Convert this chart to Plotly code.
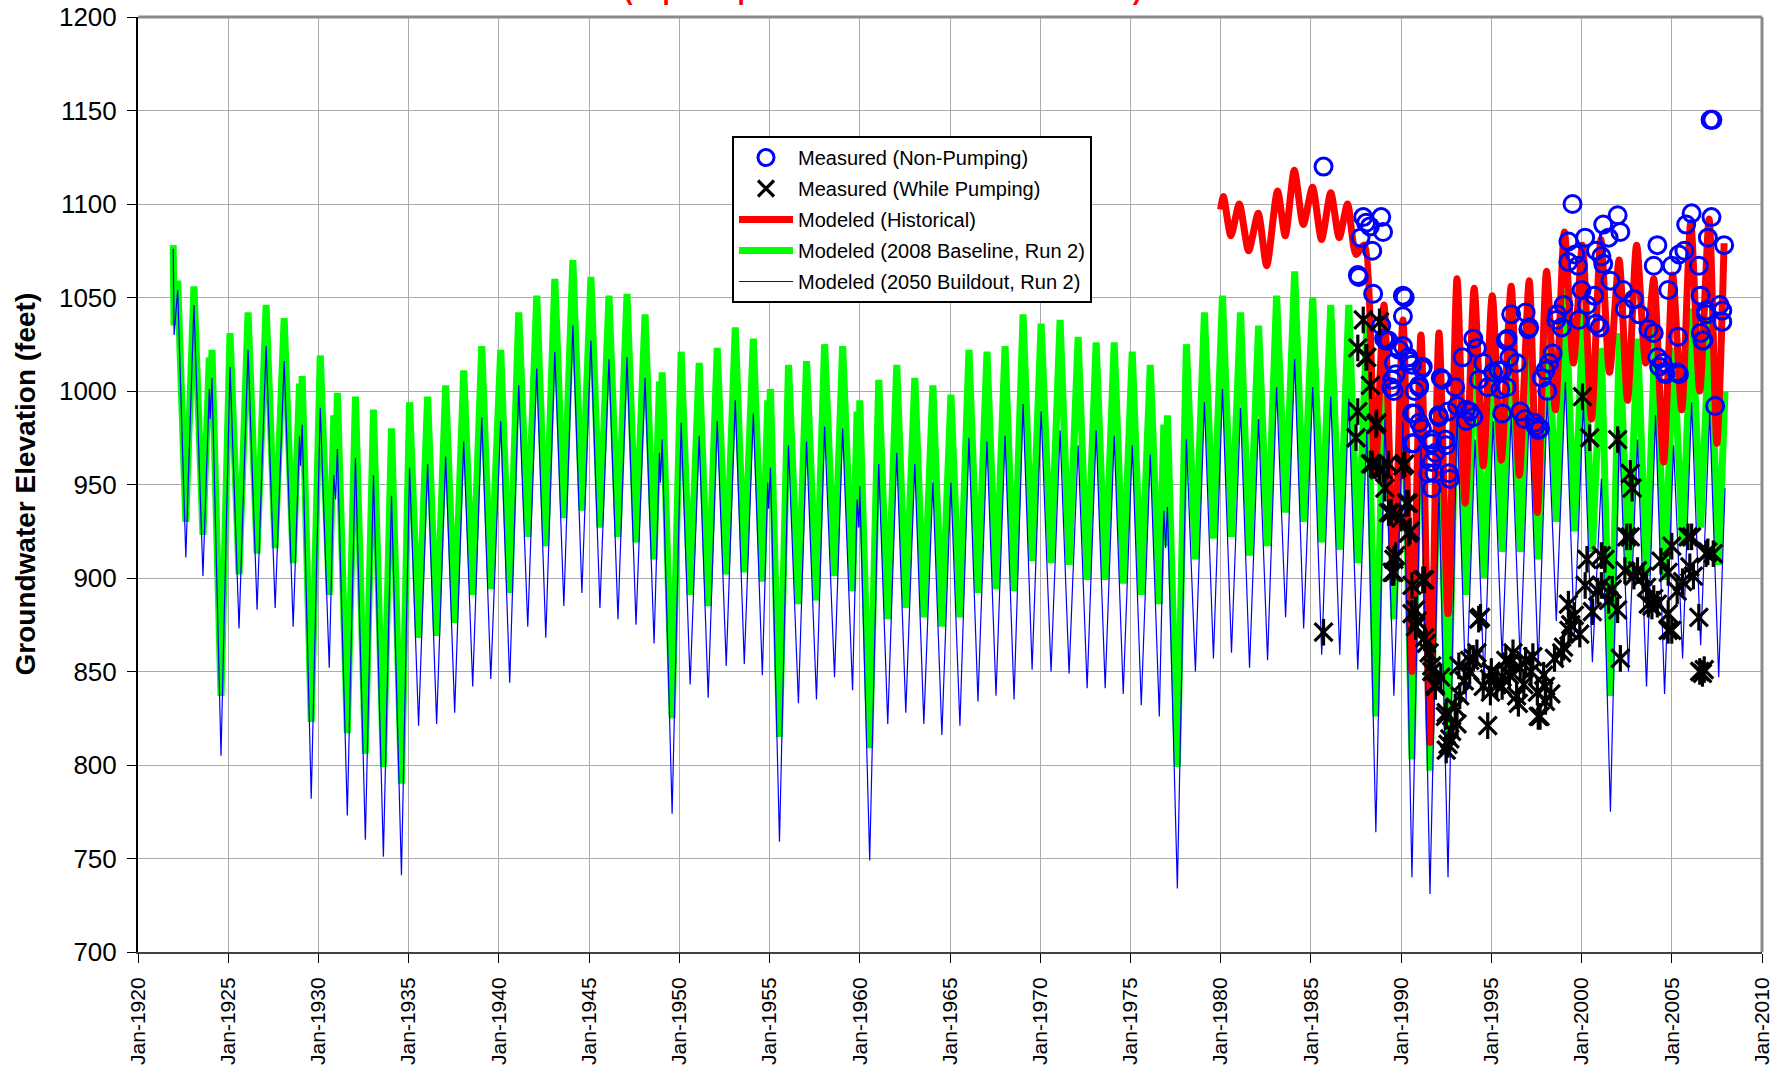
import plotly.graph_objects as go

# ---------------- data ----------------
tick_years = list(range(1920, 2011, 5))
tick_labels = [f"Jan-{y}" for y in tick_years]
y_ticks = list(range(700, 1201, 50))

# (decimal year, 2008 Baseline Run 2, 2050 Buildout Run 2)  -- seasonal highs / lows
model_points = [
    (1921.95, 1078, 1076), (1922.0, 1035, 1030), (1922.2, 1059, 1054), (1922.65, 930, 911),
    (1923.1, 1056, 1046), (1923.6, 923, 901), (1923.95, 1018, 1001), (1924.0, 986, 985),
    (1924.1, 1022, 1007), (1924.6, 837, 805), (1925.1, 1031, 1013), (1925.6, 902, 873),
    (1926.1, 1042, 1022), (1926.6, 913, 883), (1927.1, 1046, 1024), (1927.6, 916, 884),
    (1928.1, 1039, 1016), (1928.6, 908, 874), (1928.95, 1004, 976), (1929.0, 960, 960),
    (1929.1, 1008, 982), (1929.6, 823, 782), (1930.1, 1019, 991), (1930.6, 891, 852),
    (1930.85, 987, 955), (1930.95, 955, 942), (1931.05, 999, 969), (1931.6, 817, 773),
    (1932.05, 997, 964), (1932.6, 806, 760), (1933.05, 990, 955), (1933.6, 799, 751),
    (1934.05, 980, 944), (1934.6, 790, 741), (1935.05, 994, 959), (1935.55, 868, 821),
    (1936.05, 997, 961), (1936.55, 869, 822), (1937.05, 1003, 965), (1937.55, 876, 828),
    (1938.05, 1011, 973), (1938.55, 891, 842), (1939.05, 1024, 986), (1939.55, 894, 846),
    (1940.1, 1022, 984), (1940.6, 892, 844), (1941.1, 1042, 1003), (1941.6, 922, 874),
    (1942.1, 1051, 1012), (1942.6, 917, 868), (1943.1, 1060, 1021), (1943.6, 932, 885),
    (1944.1, 1070, 1035), (1944.6, 936, 892), (1945.1, 1061, 1027), (1945.6, 927, 884),
    (1946.1, 1051, 1017), (1946.6, 922, 878), (1947.1, 1052, 1018), (1947.6, 919, 875),
    (1948.1, 1041, 1007), (1948.6, 910, 865), (1948.9, 1005, 967), (1948.95, 976, 951),
    (1949.05, 1010, 974), (1949.6, 825, 774), (1950.1, 1021, 983), (1950.6, 891, 843),
    (1951.1, 1015, 976), (1951.6, 885, 836), (1952.1, 1023, 984), (1952.6, 902, 853),
    (1953.1, 1034, 995), (1953.6, 903, 854), (1954.1, 1028, 988), (1954.6, 898, 848),
    (1954.9, 995, 951), (1954.95, 978, 937), (1955.05, 1001, 959), (1955.55, 815, 759),
    (1956.05, 1014, 971), (1956.6, 886, 833), (1957.05, 1016, 973), (1957.6, 888, 835),
    (1958.05, 1025, 981), (1958.6, 901, 847), (1959.05, 1024, 980), (1959.6, 893, 840),
    (1959.85, 989, 942), (1959.95, 927, 927), (1960.0, 995, 949), (1960.55, 809, 749),
    (1961.05, 1006, 961), (1961.55, 878, 822), (1962.05, 1014, 967), (1962.55, 884, 828),
    (1963.05, 1007, 961), (1963.55, 879, 822), (1964.05, 1003, 951), (1964.55, 874, 816),
    (1965.05, 998, 951), (1965.55, 879, 821), (1966.05, 1022, 975), (1966.55, 892, 834),
    (1967.05, 1021, 973), (1967.55, 894, 837), (1968.05, 1024, 976), (1968.55, 893, 835),
    (1969.05, 1041, 993), (1969.55, 909, 851), (1970.05, 1036, 989), (1970.6, 908, 850),
    (1971.1, 1038, 979), (1971.6, 907, 849), (1972.1, 1029, 971), (1972.6, 899, 841),
    (1973.1, 1026, 979), (1973.6, 899, 841), (1974.1, 1026, 976), (1974.6, 897, 838),
    (1975.1, 1021, 971), (1975.6, 891, 832), (1976.1, 1014, 966), (1976.6, 886, 826),
    (1976.85, 982, 936), (1976.95, 917, 916), (1977.05, 987, 938), (1977.6, 799, 734),
    (1978.1, 1025, 974), (1978.6, 910, 850), (1979.1, 1042, 994), (1979.6, 921, 857),
    (1980.1, 1051, 1001), (1980.6, 922, 860), (1981.1, 1042, 991), (1981.6, 912, 852),
    (1982.1, 1035, 985), (1982.6, 917, 856), (1983.1, 1051, 1002), (1983.6, 935, 879),
    (1984.1, 1064, 1017), (1984.6, 930, 873), (1985.1, 1050, 1002), (1985.6, 919, 859),
    (1986.1, 1046, 997), (1986.6, 915, 859), (1987.1, 1046, 996), (1987.6, 908, 851),
    (1988.1, 1036, 979), (1988.6, 826, 764), (1989.1, 1041, 985), (1989.6, 878, 837),
    (1990.1, 1026, 984), (1990.6, 803, 740), (1991.1, 1028, 974), (1991.6, 797, 731),
    (1992.1, 994, 948), (1992.6, 811, 740), (1993.1, 1034, 989), (1993.6, 891, 834),
    (1994.1, 1035, 974), (1994.6, 900, 844), (1995.1, 1041, 984), (1995.6, 914, 857),
    (1996.1, 1044, 987), (1996.6, 914, 855), (1997.1, 1046, 989), (1997.6, 910, 853),
    (1998.1, 1051, 997), (1998.6, 930, 877), (1999.1, 1054, 1005), (1999.6, 925, 870),
    (2000.1, 1044, 994), (2000.6, 914, 855), (2001.1, 1023, 953), (2001.6, 837, 775),
    (2002.1, 1031, 979), (2002.6, 904, 850), (2003.1, 1028, 974), (2003.6, 901, 842),
    (2004.1, 1038, 987), (2004.6, 899, 838), (2005.1, 1023, 971), (2005.6, 917, 857),
    (2006.1, 1044, 994), (2006.6, 927, 864), (2007.1, 1038, 989), (2007.6, 907, 847),
    (2007.95, 1000, 948),
]

# Modeled (Historical): (decimal year, elevation)
historical = [
    (1980.0, 1097), (1980.15, 1104), (1980.57, 1083), (1981.03, 1100), (1981.55, 1075),
    (1982.08, 1095), (1982.55, 1067), (1983.15, 1107), (1983.58, 1083), (1984.08, 1118),
    (1984.58, 1089), (1985.09, 1109), (1985.59, 1081), (1986.1, 1106), (1986.57, 1082),
    (1987.03, 1100), (1987.5, 1073), (1987.95, 1078), (1988.55, 955), (1989.05, 1046),
    (1989.6, 900), (1990.1, 1038), (1990.6, 850), (1991.1, 1030), (1991.6, 812),
    (1992.1, 1031), (1992.6, 881), (1993.1, 1060), (1993.55, 940), (1994.05, 1055),
    (1994.55, 960), (1995.05, 1051), (1995.55, 963), (1996.1, 1056), (1996.55, 955),
    (1997.1, 1059), (1997.55, 935), (1998.06, 1064), (1998.55, 990), (1999.05, 1085),
    (1999.55, 1015), (2000.05, 1078), (2000.55, 985), (2001.07, 1081), (2001.55, 1010),
    (2002.08, 1070), (2002.55, 995), (2003.05, 1078), (2003.55, 1015), (2004.0, 1060),
    (2004.55, 962), (2005.05, 1062), (2005.55, 990), (2006.05, 1090), (2006.55, 1000),
    (2007.07, 1092), (2007.5, 972), (2007.9, 1079),
]

# Measured (Non-Pumping)
measured_non_pumping = [
    (1985.7, 1120), (1987.9, 1093), (1988.06, 1090), (1988.27, 1088), (1988.9, 1093), (1989.0, 1085),
    (1987.75, 1082), (1988.4, 1075), (1987.6, 1062), (1987.65, 1061), (1988.45, 1052), (1990.1, 1051),
    (1990.2, 1050), (1988.9, 1035), (1989.06, 1028), (1989.3, 1027), (1990.1, 1040), (1990.1, 1024),
    (1989.6, 1015), (1989.7, 1009), (1989.45, 1002), (1990.4, 1018), (1990.6, 1014), (1991.15, 1012),
    (1992.2, 1007), (1990.75, 1000), (1991.0, 1003), (1990.75, 988), (1990.6, 972), (1991.15, 980),
    (1991.7, 974), (1991.9, 967), (1992.45, 974), (1991.7, 962), (1991.85, 956), (1991.7, 948),
    (1992.7, 953), (1992.07, 987), (1992.6, 989), (1993.1, 992), (1993.8, 989), (1993.6, 984),
    (1993.4, 1018), (1994.0, 1028), (1994.2, 1023), (1994.55, 1015), (1995.1, 1010), (1995.6, 1011),
    (1996.0, 1018), (1996.4, 1015), (1994.3, 1006), (1994.8, 1002), (1995.5, 1001), (1995.85, 1002),
    (1995.9, 1028), (1996.9, 1042), (1997.05, 1033), (1995.6, 988), (1996.6, 989), (1996.85, 985),
    (1997.4, 983), (1997.7, 980), (1997.8, 1007), (1998.2, 1015), (1998.1, 1000), (1998.6, 1038),
    (1998.9, 1034), (1999.0, 1046), (1999.5, 1100), (1999.27, 1080), (1999.65, 1073), (1999.27, 1069),
    (1999.8, 1067), (2000.2, 1082), (2000.8, 1075), (2001.2, 1089), (2001.5, 1082), (2002.0, 1094),
    (2002.15, 1085), (2000.0, 1054), (2000.3, 1046), (2000.7, 1051), (2000.8, 1036), (2001.1, 1072),
    (2001.2, 1068), (2001.6, 1059), (2002.3, 1054), (2002.4, 1044), (2002.9, 1049), (2003.2, 1041),
    (2003.7, 1033), (2004.0, 1031), (2004.2, 1078), (2004.0, 1067), (2004.8, 1054), (2004.2, 1018),
    (2004.6, 1010), (2005.3, 1010), (2004.5, 1015), (2005.0, 1067), (2005.4, 1073), (2005.7, 1075),
    (2006.1, 1095), (2005.8, 1089), (2006.5, 1067), (2006.6, 1051), (2006.9, 1041), (2007.0, 1082),
    (2007.2, 1093), (2007.9, 1078), (2006.6, 1031), (2006.75, 1027), (2007.65, 1046), (2007.8, 1037),
    (2007.4, 992), (2005.35, 1029), (1996.1, 1041), (2007.15, 1145), (2007.25, 1145),
    (1989.15, 1027), (1989.9, 1022), (1990.45, 1016), (1991.2, 1013), (1989.5, 1006), (1989.6, 1000),
    (1991.0, 1002), (1992.3, 1006), (1993.0, 1002), (1995.4, 1011), (1995.8, 1027), (1997.1, 1034),
    (1998.0, 1011), (1998.4, 1020), (1998.65, 1041), (1990.6, 988), (1991.0, 983), (1992.1, 986),
    (1993.6, 990), (1994.0, 986), (1990.7, 972), (1991.7, 972), (1992.5, 971), (1991.5, 956),
    (1992.65, 956), (1997.45, 981), (1997.6, 979), (1999.85, 1038), (2001.0, 1034), (2004.3, 1013),
    (2004.65, 1009), (2005.4, 1009), (2006.9, 1043), (2007.8, 1043), (2006.7, 1027),
]

# Measured (While Pumping)
measured_pumping = [
    (1985.7, 871), (1987.9, 1038), (1988.8, 1037), (1987.6, 1023), (1988.1, 1018), (1988.3, 1003),
    (1987.6, 989), (1988.65, 983), (1987.5, 975), (1988.3, 961), (1988.8, 958), (1989.3, 961),
    (1990.2, 961), (1989.1, 948), (1989.45, 935), (1990.4, 940), (1990.0, 932), (1990.5, 925),
    (1989.6, 910), (1989.6, 903), (1990.6, 896), (1991.3, 899), (1990.8, 883), (1990.9, 877),
    (1991.3, 868), (1991.55, 860), (1991.7, 850), (1992.2, 847), (1991.9, 843), (1992.45, 826),
    (1992.6, 811), (1993.0, 831), (1993.25, 837), (1994.0, 857), (1994.4, 879), (1993.8, 850),
    (1994.55, 842), (1994.95, 839), (1994.8, 821), (1995.6, 847), (1996.1, 855), (1996.6, 852),
    (1997.2, 850), (1997.55, 839), (1997.7, 826), (1995.6, 842), (1996.4, 837), (1998.0, 834),
    (1998.5, 857), (1999.0, 863), (1999.4, 875), (1999.27, 886), (1999.9, 870), (2000.2, 896),
    (2000.6, 882), (2001.1, 896), (2001.5, 888), (2002.0, 883), (2000.05, 997), (2000.45, 975),
    (2002.0, 974), (2002.7, 956), (2002.8, 948), (2002.7, 922), (2002.15, 857), (2000.3, 910),
    (2001.1, 912), (2002.4, 904), (2002.9, 901), (2003.4, 901), (2003.7, 886), (2004.2, 886),
    (2004.8, 881), (2004.4, 909), (2005.0, 917), (2006.1, 922), (2006.2, 901), (2007.0, 914),
    (2004.8, 872), (2006.5, 879), (2006.8, 851), (2006.55, 850),
    (1988.05, 1018), (1988.6, 982), (1988.4, 961), (1989.0, 958), (1990.1, 960), (1990.3, 940),
    (1989.3, 935), (1990.4, 924), (1989.7, 912), (1989.5, 903), (1991.2, 899), (1990.6, 881),
    (1990.8, 874), (1991.4, 865), (1991.7, 853), (1991.9, 842), (1992.5, 828), (1992.7, 814),
    (1992.5, 808), (1993.2, 853), (1993.8, 856), (1994.3, 878), (1994.9, 846), (1995.8, 856),
    (1996.2, 860), (1996.9, 856), (1996.5, 833), (1997.6, 826), (1998.0, 842), (1998.9, 860),
    (1999.3, 872), (2001.3, 910), (2002.5, 922), (2003.9, 885), (2004.8, 903), (2005.9, 922),
    (2006.7, 849), (2006.9, 913), (2005.0, 872), (1993.5, 845), (1995.0, 850), (1995.3, 843),
    (1996.0, 848), (1996.8, 843), (1997.3, 858), (1997.9, 848), (1998.3, 838), (1994.2, 860),
    (1993.1, 822), (1992.8, 818), (1999.6, 880), (2000.9, 893), (2001.7, 894), (2003.1, 904),
    (2004.0, 889), (2005.3, 893), (2006.0, 906), (2005.6, 898), (2007.3, 913), (2003.6, 895),
]

# ---------------- figure ----------------
FONT = "Arial, 'Liberation Sans', Helvetica, sans-serif"

mt = [p[0] for p in model_points]
base_v = [p[1] for p in model_points]
build_v = [p[2] for p in model_points]
ht = [p[0] for p in historical]
hv = [p[1] for p in historical]
npt = [p[0] for p in measured_non_pumping]
npv = [p[1] for p in measured_non_pumping]
pt = [p[0] for p in measured_pumping]
pv = [p[1] for p in measured_pumping]

fig = go.Figure()
fig.add_trace(go.Scatter(x=mt, y=base_v, mode="lines", name="Modeled (2008 Baseline, Run 2)",
                         legendgroup="g4", legendrank=4,
                         line=dict(color="#00FF00", width=7)))
fig.add_trace(go.Scatter(x=ht, y=hv, mode="lines", name="Modeled (Historical)",
                         legendgroup="g3", legendrank=3,
                         line=dict(color="#FF0000", width=7, shape="spline", smoothing=0.7)))
fig.add_trace(go.Scatter(x=mt, y=build_v, mode="lines", name="Modeled (2050 Buildout, Run 2)",
                         legendgroup="g5", legendrank=5,
                         line=dict(color="#0000FF", width=1.2)))
fig.add_trace(go.Scatter(x=npt, y=npv, mode="markers", name="Measured (Non-Pumping)",
                         legendgroup="g1", legendrank=1,
                         marker=dict(symbol="circle-open", size=17, color="#0000FF",
                                     line=dict(width=3, color="#0000FF"))))
fig.add_trace(go.Scatter(x=pt, y=pv, mode="markers", name="Measured (While Pumping)",
                         legendgroup="g2", legendrank=2,
                         marker=dict(symbol="x-thin-open", size=18, color="#000000",
                                     line=dict(width=3.2, color="#000000"))))
fig.add_trace(go.Scatter(x=pt, y=pv, mode="markers", name="Measured (While Pumping)",
                         legendgroup="g2", legendrank=2, showlegend=False,
                         marker=dict(symbol="line-ns-open", size=19, color="#000000",
                                     line=dict(width=3.2, color="#000000"))))

L, T, W, H = 138, 17, 1786, 1065
R, B = 1762, 952
pw, ph = R - L, B - T

fig.update_layout(
    width=W, height=H,
    margin=dict(l=L, r=W - R, t=T, b=H - B, pad=0, autoexpand=False),
    paper_bgcolor="white", plot_bgcolor="white",
    font=dict(family=FONT, color="black"),
    showlegend=True,
    legend=dict(x=(732 - L) / pw, y=1 - (136 - T) / ph, xanchor="left", yanchor="top",
                bgcolor="white", bordercolor="black", borderwidth=2,
                font=dict(family=FONT, size=20, color="black"),
                traceorder="grouped", tracegroupgap=2,
                itemwidth=54),
    xaxis=dict(range=[1920, 2010], tickmode="array", tickvals=tick_years, ticktext=tick_labels,
               tickangle=-90, tickfont=dict(family=FONT, size=21, color="black"),
               showgrid=True, gridcolor="#ababab", gridwidth=1,
               showline=True, linecolor="#404040", linewidth=2,
               ticks="outside", ticklen=9, tickwidth=1, tickcolor="black",
               ticklabelstandoff=6, automargin=False,
               zeroline=False, fixedrange=True),
    yaxis=dict(range=[700, 1200], tickmode="array", tickvals=y_ticks,
               tickfont=dict(family=FONT, size=26, color="black"),
               showgrid=True, gridcolor="#ababab", gridwidth=1,
               showline=True, linecolor="black", linewidth=2,
               ticks="outside", ticklen=9, tickwidth=1, tickcolor="black",
               ticklabelstandoff=5, automargin=False,
               zeroline=False, fixedrange=True),
    shapes=[
        dict(type="line", xref="paper", yref="paper", x0=0, x1=1, y0=1, y1=1,
             line=dict(color="#8a8a8a", width=3)),
        dict(type="line", xref="paper", yref="paper", x0=1, x1=1, y0=0, y1=1,
             line=dict(color="#8a8a8a", width=3)),
    ],
    annotations=[
        dict(text="<b>Groundwater Elevation (feet)</b>", textangle=-90,
             xref="paper", yref="paper", x=(25 - L) / pw, y=0.5, xanchor="center", yanchor="middle",
             showarrow=False, font=dict(family=FONT, size=28, color="black")),
        dict(text="<b>(Top of Open Interval Elevation = 603 feet)</b>",
             xref="paper", yref="paper", x=(882 - L) / pw, y=1, xanchor="center", yanchor="bottom",
             yshift=9, showarrow=False, font=dict(family=FONT, size=26, color="#FF0000")),
    ],
)

fig.write_html("out.html", config={"displayModeBar": False},
               post_script="document.body.style.margin='0';document.body.style.overflow='hidden';")
